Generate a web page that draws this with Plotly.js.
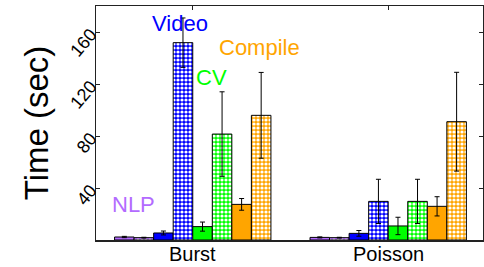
<!DOCTYPE html>
<html><head><meta charset="utf-8">
<script src="https://cdn.plot.ly/plotly-3.0.1.min.js"></script>
<style>body{margin:0;background:#fff}#c{width:484px;height:267px}</style>
</head><body><div id="c"></div>
<script>
var categories = ["Burst", "Poisson"];
var workloads = ["NLP", "Video", "CV", "Compile"];
var colors = ["#b36bff", "#0000ff", "#00ff00", "#ffa500"];
// solid bars
var solidVals = [[2.3, 2.0], [5.4, 5.1], [10.3, 10.8], [27.4, 25.9]];
var solidErr  = [[0.5, 0.4], [1.5, 2.2], [3.5, 6.7], [4.5, 7.4]];
// hatched bars
var hatchVals = [[1.8, 1.8], [151.8, 29.7], [81.5, 29.7], [95.9, 91.0]];
var hatchErr  = [[0.3, 0.3], [19, 17], [32.5, 17], [33, 38]];
var yTicks = [40, 80, 120, 160];

var traces = [];
for (var i = 0; i < workloads.length; i++) {
  traces.push({type: 'bar', x: categories, y: solidVals[i], name: workloads[i],
    marker: {color: colors[i], line: {color: '#000', width: 1}},
    error_y: {type: 'data', array: solidErr[i], visible: true, color: '#000', thickness: 1, width: 2.5},
    showlegend: false, hoverinfo: 'skip'});
  traces.push({type: 'bar', x: categories, y: hatchVals[i], name: workloads[i] + ' (hatched)',
    marker: {color: colors[i], line: {color: '#000', width: 1},
      pattern: {shape: '.', fgcolor: '#ffffff', bgcolor: colors[i], size: 4, solidity: 0.5, fillmode: 'replace'}},
    error_y: {type: 'data', array: hatchErr[i], visible: true, color: '#000', thickness: 1, width: 2.5},
    showlegend: false, hoverinfo: 'skip'});
}

var font = "Liberation Sans, Arial, sans-serif";
var layout = {
  width: 484, height: 267,
  margin: {l: 96, r: 1, t: 6, b: 27},
  paper_bgcolor: '#fff', plot_bgcolor: '#fff',
  barmode: 'group', bargap: 0.2, bargroupgap: 0,
  font: {family: font, color: '#000'},
  xaxis: {type: 'category', range: [-0.495, 1.485], showline: true, mirror: 'ticks', linecolor: '#222', linewidth: 1.5,
    ticks: 'inside', ticklen: 4, tickcolor: '#222', showticklabels: false, showgrid: false, zeroline: false},
  yaxis: {range: [0, 180], tickvals: yTicks, ticktext: yTicks.map(String), showline: true, mirror: 'ticks', linecolor: '#222', linewidth: 1.5,
    ticks: 'inside', ticklen: 4, tickcolor: '#222', tickangle: -50, tickfont: {size: 18, family: font}, showgrid: false, zeroline: false,
    title: {text: 'Time (sec)', font: {size: 33, family: font}, standoff: 7}},
  annotations: [
    {text: 'Video', showarrow: false, font: {size: 22, color: colors[1], family: font}},
    {text: 'Compile', showarrow: false, font: {size: 22, color: colors[3], family: font}},
    {text: 'CV', showarrow: false, font: {size: 22, color: colors[2], family: font}},
    {text: 'NLP', showarrow: false, font: {size: 22, color: colors[0], family: font}}
  ]
};
// category labels under the axis
categories.forEach(function(c){
  layout.annotations.push({text: c, x: c, xref: 'x', y: 0, yref: 'paper', yanchor: 'top', yshift: -1,
    showarrow: false, font: {size: 20, family: font, color: '#000'}});
});
// label positions in pixel terms converted to data coords
function px2x(px){ return -0.495 + (px - 96) / 388 * 1.98; }
function py2y(py){ return (240 - py) / 234 * 180; }
var labelPos = [[180, 23], [260, 47], [212, 77], [134, 204]];
for (var k = 0; k < 4; k++) {
  layout.annotations[k].xref = 'x'; layout.annotations[k].yref = 'y';
  layout.annotations[k].x = px2x(labelPos[k][0]);
  layout.annotations[k].y = py2y(labelPos[k][1]);
}
Plotly.newPlot('c', traces, layout, {staticPlot: true});
</script></body></html>
